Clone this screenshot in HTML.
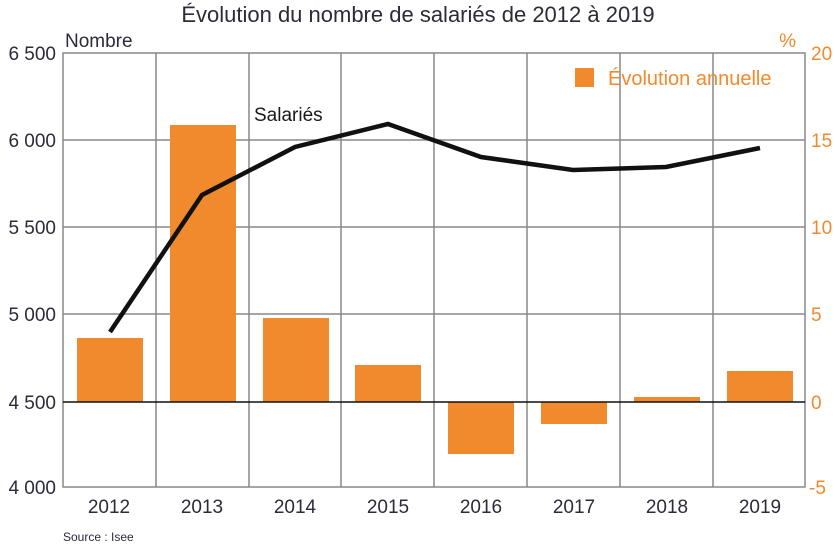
<!DOCTYPE html>
<html><head><meta charset="utf-8"><style>
body{margin:0;background:#fff;}
svg text{font-family:"Liberation Sans",sans-serif;}
</style></head><body>
<svg width="835" height="548" viewBox="0 0 835 548" xmlns="http://www.w3.org/2000/svg">
<text x="418" y="22" font-size="22" fill="#2b2b3a" text-anchor="middle">Évolution du nombre de salariés de 2012 à 2019</text>
<text x="65" y="47" font-size="19" fill="#2b2b3a">Nombre</text>
<text x="796" y="47" font-size="19" fill="#f08a2c" text-anchor="end">%</text>
<g stroke="#888" stroke-width="1.5" fill="none">
<rect x="63" y="53" width="742" height="434"/>
<line x1="63" y1="140" x2="805" y2="140"/>
<line x1="63" y1="227" x2="805" y2="227"/>
<line x1="63" y1="314" x2="805" y2="314"/>
<line x1="156" y1="53" x2="156" y2="487"/>
<line x1="249" y1="53" x2="249" y2="487"/>
<line x1="341" y1="53" x2="341" y2="487"/>
<line x1="434" y1="53" x2="434" y2="487"/>
<line x1="527" y1="53" x2="527" y2="487"/>
<line x1="620" y1="53" x2="620" y2="487"/>
<line x1="713" y1="53" x2="713" y2="487"/>
</g>
<g fill="#f08a2c">
<rect x="77" y="338" width="66" height="64"/>
<rect x="170" y="125" width="66" height="277"/>
<rect x="263" y="318" width="66" height="84"/>
<rect x="355" y="365" width="66" height="37"/>
<rect x="448" y="402" width="66" height="52"/>
<rect x="541" y="402" width="66" height="22"/>
<rect x="634" y="397" width="66" height="5"/>
<rect x="727" y="371" width="66" height="31"/>
<rect x="575" y="68" width="19" height="19"/>
</g>
<line x1="63" y1="402" x2="805" y2="402" stroke="#111" stroke-width="1.6"/>
<polyline points="110,332 202,195 295,147 388,124 481,157 573,170 666,167 760,148" fill="none" stroke="#111" stroke-width="4.5" stroke-linejoin="miter"/>
<text x="254" y="121" font-size="19" fill="#1a1a1a">Salariés</text>
<text x="608" y="85" font-size="20" fill="#f08a2c">Évolution annuelle</text>
<g font-size="19" fill="#2b2b3a" text-anchor="end">
<text x="56" y="60">6 500</text>
<text x="56" y="147">6 000</text>
<text x="56" y="234">5 500</text>
<text x="56" y="321">5 000</text>
<text x="56" y="409">4 500</text>
<text x="56" y="494">4 000</text>
</g>
<g font-size="19" fill="#f08a2c" text-anchor="start">
<text x="811" y="60">20</text>
<text x="811" y="147">15</text>
<text x="811" y="234">10</text>
<text x="811" y="321">5</text>
<text x="811" y="409">0</text>
<text x="809" y="494">-5</text>
</g>
<g font-size="19" fill="#2b2b3a" text-anchor="middle">
<text x="109" y="513">2012</text>
<text x="202" y="513">2013</text>
<text x="295" y="513">2014</text>
<text x="388" y="513">2015</text>
<text x="481" y="513">2016</text>
<text x="574" y="513">2017</text>
<text x="667" y="513">2018</text>
<text x="760" y="513">2019</text>
</g>
<text x="63" y="541" font-size="12" fill="#2b2b3a">Source : Isee</text>
</svg>
</body></html>
